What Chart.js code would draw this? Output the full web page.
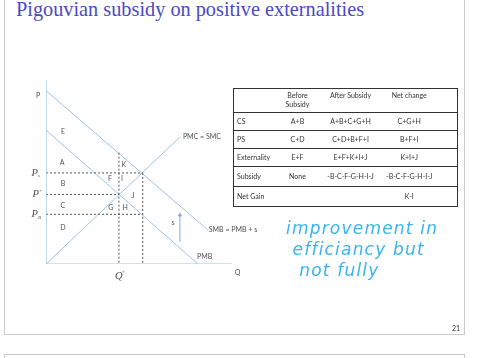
<!DOCTYPE html>
<html><head><meta charset="utf-8">
<script src="https://cdn.jsdelivr.net/npm/chart.js@4"></script>
<style>
html,body{margin:0;padding:0;background:#fff;width:478px;height:358px;overflow:hidden;position:relative;font-family:"Lato","Liberation Sans",sans-serif}
#c{position:absolute;left:0;top:0}
.slide{position:absolute;left:4px;top:-10px;width:461px;height:345px;border:1px solid #c9c9c9;box-sizing:border-box}
.slide2{position:absolute;left:4px;top:354px;width:461px;height:20px;border:1px solid #c9c9c9;box-sizing:border-box}
#title{position:absolute;left:16px;top:-2px;font-family:"Liberation Serif",serif;font-size:20.3px;color:#4a4ac6;white-space:nowrap}
#tbl{position:absolute;left:233px;top:88px;width:224px;height:118px;border-collapse:collapse;border:1px solid #333;font-size:7px;color:#333;table-layout:fixed}
#tbl td{padding:0 0 0 3px;border-top:1px solid #333;vertical-align:middle;line-height:8.5px}
#tbl td.c{text-align:center;padding:0}
#tbl tr.h td{border-top:none;vertical-align:top;padding-top:2px}
#note{position:absolute;left:286px;top:218px;font-family:"DejaVu Sans",sans-serif;font-style:italic;font-size:17px;line-height:21px;color:#38b4ee;white-space:pre;letter-spacing:1.2px}
#pg{position:absolute;left:452px;top:324px;font-size:7px;color:#333}
</style></head><body>
<div class="slide"></div><div class="slide2"></div>
<div id="title">Pigouvian subsidy on positive externalities</div>
<canvas id="c" width="478" height="358"></canvas>
<table id="tbl">
<colgroup><col style="width:42px"><col style="width:44px"><col style="width:62px"><col style="width:76px"></colgroup>
<tr class="h" style="height:24px"><td></td><td class="c">Before<br>Subsidy</td><td class="c">After Subsidy</td><td class="c" style="padding-right:20px">Net change</td></tr>
<tr style="height:18px"><td>CS</td><td class="c">A+B</td><td class="c">A+B+C+G+H</td><td class="c" style="padding-right:20px">C+G+H</td></tr>
<tr style="height:18px"><td>PS</td><td class="c">C+D</td><td class="c">C+D+B+F+I</td><td class="c" style="padding-right:20px">B+F+I</td></tr>
<tr style="height:18px"><td>Externality</td><td class="c">E+F</td><td class="c">E+F+K+I+J</td><td class="c" style="padding-right:20px">K+I+J</td></tr>
<tr style="height:20px"><td>Subsidy</td><td class="c">None</td><td class="c">-B-C-F-G-H-I-J</td><td class="c" style="padding-right:20px">-B-C-F-G-H-I-J</td></tr>
<tr style="height:20px"><td>Net Gain</td><td class="c"></td><td class="c"></td><td class="c" style="padding-right:20px">K-I</td></tr>
</table>
<div id="note">improvement in
 efficiancy but
  not fully</div>
<div id="pg">21</div>
<script>
// Curves (Q, P), axes 0..100
const pmcQ = [0, 72];      const pmcP = [0, 69];
const smbQ = [0, 87];      const smbP = [94.2, 18.5];
const pmbQ = [0, 81.7];    const pmbP = [72.8, 0];
const Ps = 49.5, Pstar = 37.8, PB = 27, Qstar = 39.2, Qs = 52;
const subsidyQ = 72; const subsidyFrom = 12, subsidyTo = 26.6;
const areaLabels = ['E','A','K','F','I','B','J','C','G','H','D','s'];
const areaQ = [9.1, 8.6, 41.9, 34.4, 40.9, 9.1, 46.8, 9.1, 34.9, 42.5, 9.1, 68.3];
const areaP = [71.7, 54.9, 53.8, 46.2, 46.2, 43.5, 37.0, 31.5, 30.4, 30.4, 19.6, 22.3];

const blue = '#9fc2e7', dash = '#555';
const pts = (xs, ys) => xs.map((x, i) => ({x, y: ys[i]}));
const ln = (data, color, extra) => Object.assign({data, showLine: true, borderColor: color, backgroundColor: color, borderWidth: 1, pointRadius: 0, fill: false}, extra || {});
const dsh = {borderDash: [2, 2], borderWidth: 1};

const labelsPlugin = {
  id: 'labels',
  afterDatasetsDraw(chart) {
    const {ctx, scales: {x, y}} = chart;
    const X = v => x.getPixelForValue(v), Y = v => y.getPixelForValue(v);
    ctx.save();
    ctx.fillStyle = '#505050';
    ctx.font = '7px "Lato", sans-serif';
    ctx.textAlign = 'center'; ctx.textBaseline = 'middle';
    areaLabels.forEach((t, i) => ctx.fillText(t, X(areaQ[i]), Y(areaP[i])));
    ctx.fillText('P', X(0) - 8, Y(91.3));
    ctx.fillText('Q', X(103), Y(-5));
    ctx.textAlign = 'left';
    ctx.fillText('PMC = SMC', X(pmcQ[1]) + 3, Y(pmcP[1]));
    ctx.fillText('SMB = PMB + s', X(smbQ[1]) + 1, Y(smbP[1]));
    ctx.fillText('PMB', X(pmbQ[1]) - 1, Y(3.8));
    ctx.font = 'italic 10.5px "Liberation Serif", serif';
    ctx.textAlign = 'right';
    ctx.fillText('P', X(0) - 8, Y(Ps));
    ctx.fillText('P', X(0) - 7, Y(Pstar));
    ctx.fillText('P', X(0) - 8, Y(PB));
    ctx.textAlign = 'center';
    ctx.fillText('Q', X(Qstar), Y(-6.5));
    ctx.font = 'italic 5px "Liberation Serif", serif';
    ctx.textAlign = 'left';
    ctx.fillText('s', X(0) - 8, Y(Ps) + 3);
    ctx.fillText('*', X(0) - 7, Y(Pstar) - 3);
    ctx.fillText('B', X(0) - 8, Y(PB) + 3);
    ctx.fillText('*', X(Qstar) + 3, Y(-6.5) - 3);
    ctx.restore();
  }
};

new Chart(document.getElementById('c'), {
  type: 'scatter',
  data: { datasets: [
    ln(pts([0, 100], [0, 0]), blue),
    ln(pts([0, 0], [0, 101]), blue, {borderWidth: 1.3}),
    ln(pts([0, Qs], [Ps, Ps]), dash, dsh),
    ln(pts([Qs, Qs], [Ps, 0]), dash, dsh),
    ln(pts([0, Qstar], [Pstar, Pstar]), dash, dsh),
    ln(pts([Qstar, Qstar], [60.5, 0]), dash, dsh),
    ln(pts([0, Qs], [PB, PB]), dash, dsh),
    ln(pts(pmcQ, pmcP), blue),
    ln(pts(smbQ, smbP), blue),
    ln(pts(pmbQ, pmbP), blue),
    ln(pts([subsidyQ, subsidyQ], [subsidyFrom, subsidyTo]), '#7fa9d8', {pointRadius: [0, 1.8], pointStyle: 'triangle'})
  ]},
  options: {
    responsive: false, animation: false, events: [],
    layout: {padding: {left: 46, right: 246, top: 80, bottom: 94}},
    plugins: {legend: {display: false}, tooltip: {enabled: false}},
    scales: {
      x: {type: 'linear', min: 0, max: 100, display: false},
      y: {type: 'linear', min: 0, max: 100, display: false}
    }
  },
  plugins: [labelsPlugin]
});
</script>
</body></html>
